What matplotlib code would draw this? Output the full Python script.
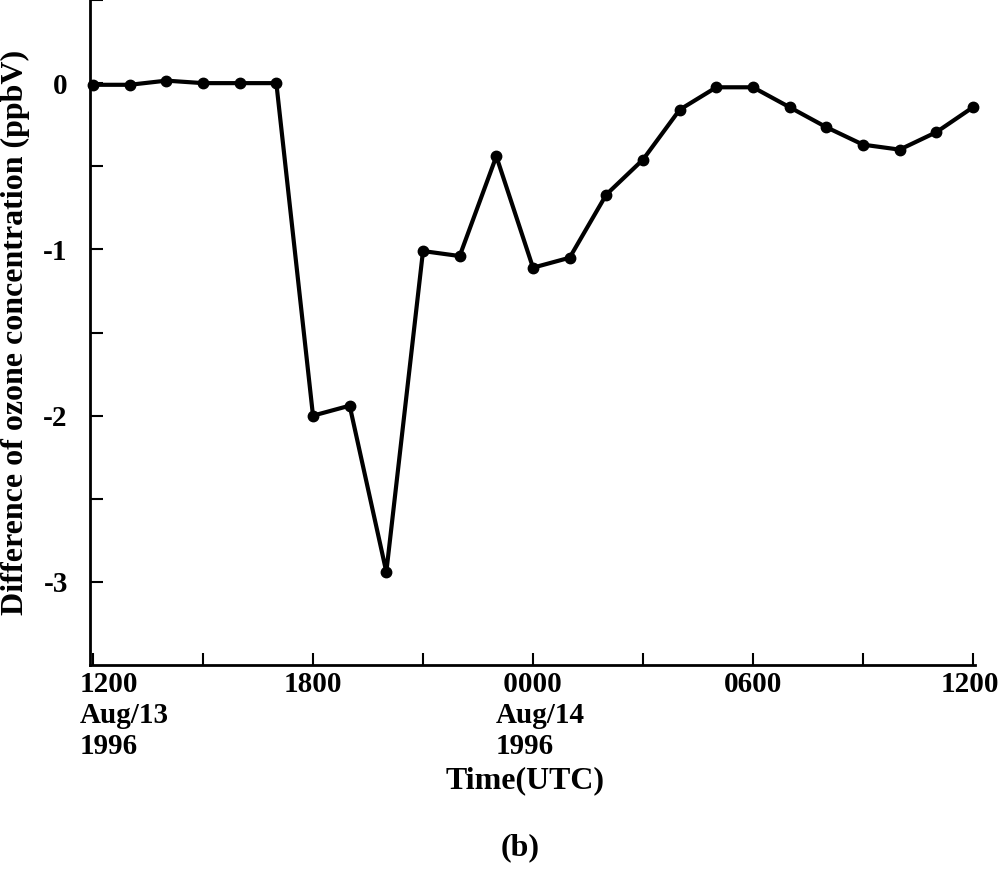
import matplotlib
matplotlib.use("Agg")
import matplotlib.pyplot as plt
import matplotlib.transforms as mtransforms

plt.rcParams['font.family'] = ['Liberation Serif', 'DejaVu Serif']
plt.rcParams['font.weight'] = 'bold'

# hours after 1200 UTC Aug 13 1996
hours = list(range(25))
ozone_diff = [-0.01, -0.01, 0.015, 0.0, 0.0, 0.0,
              -2.0, -1.94, -2.94, -1.01, -1.04, -0.44,
              -1.11, -1.05, -0.67, -0.46, -0.16, -0.025,
              -0.025, -0.145, -0.265, -0.37, -0.40, -0.295, -0.145]

xtick_pos = list(range(0, 25, 3))
xtick_labels = ['1200\nAug/13\n1996', '', '1800', '', ' 0000\nAug/14\n1996',
                '', '0600', '', '1200']
ytick_major = [-3, -2, -1, 0]
ytick_minor = [-2.5, -1.5, -0.5, 0.5]

fig = plt.figure(figsize=(10, 8.69), dpi=100)
ax = fig.add_axes([0.09, 0.2347, 0.885, 0.7653])

ax.plot(hours, ozone_diff, color='black', lw=3.0, marker='o', ms=7.5,
        clip_on=False, zorder=3)

ax.set_xlim(-0.082, 24.055)
ax.set_ylim(-3.5, 0.5)

for s in ['top', 'right']:
    ax.spines[s].set_visible(False)
for s in ['left', 'bottom']:
    ax.spines[s].set_linewidth(2.0)

ax.set_xticks(xtick_pos)
ax.set_xticklabels(xtick_labels, fontsize=21, fontweight='bold', linespacing=1.2)
ax.set_yticks(ytick_major)
ax.set_yticklabels([str(v) for v in ytick_major], fontsize=21, fontweight='bold')
ax.set_yticks(ytick_minor, minor=True)

ax.tick_params(axis='both', which='both', direction='in', length=9, width=1.5)
ax.tick_params(axis='x', pad=4)
ax.tick_params(axis='y', pad=16)

# shift the dated labels like in the original, keep the last one inside
labels = ax.get_xticklabels()
shifts = {0: -13, 4: -37}
for i, dx in shifts.items():
    lab = labels[i]
    lab.set_horizontalalignment('left')
    lab.set_multialignment('left')
    lab.set_transform(lab.get_transform() +
                      mtransforms.ScaledTranslation(dx / 100, 0, fig.dpi_scale_trans))
last = labels[-1]
last.set_transform(last.get_transform() +
                   mtransforms.ScaledTranslation(-3 / 100, 0, fig.dpi_scale_trans))

ax.set_ylabel('Difference of ozone concentration (ppbV)', fontsize=23,
              fontweight='bold')
ax.yaxis.set_label_coords(-0.068, 0.5)
ax.set_xlabel('Time(UTC)', fontsize=23, fontweight='bold')
ax.xaxis.set_label_coords(0.4915, -0.1526)
ax.xaxis.label.set_verticalalignment('top')

fig.text(0.52, 0.0161, '(b)', fontsize=23, fontweight='bold',
         ha='center', va='baseline')

fig.savefig('out.png', dpi=100)
